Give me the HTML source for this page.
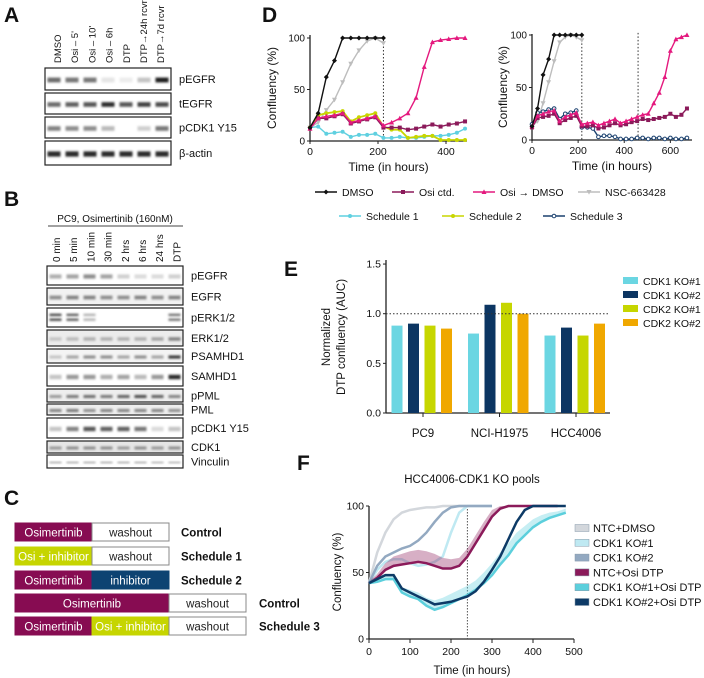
<!DOCTYPE html>
<html><head><meta charset="utf-8">
<style>
html,body{margin:0;padding:0;background:#fff;}
svg{display:block;font-family:"Liberation Sans",Arial,sans-serif;}
</style></head>
<body>
<svg id="fig" width="704" height="678" viewBox="0 0 704 678" xmlns="http://www.w3.org/2000/svg">
<defs><filter id="blur" x="-20%" y="-80%" width="140%" height="260%"><feGaussianBlur stdDeviation="1.1"/></filter></defs>
</svg>
<script>
// ---------- DATA ----------
const aLanes = ["DMSO","Osi – 5'","Osi – 10'","Osi – 6h","DTP","DTP→24h rcvr","DTP→7d rcvr"];
const aRows = ["pEGFR","tEGFR","pCDK1 Y15","β-actin"];
const aPEGFR = [0.6,0.55,0.55,0.05,0.02,0.2,0.95];
const aTEGFR = [0.6,0.65,0.7,0.9,0.7,0.8,0.75];
const aPCDK1 = [0.5,0.45,0.45,0.25,0.0,0.15,0.55];
const aActin = [0.9,0.9,0.9,0.9,0.9,0.9,0.9];
const bLanes = ["0 min","5 min","10 min","30 min","2 hrs","6 hrs","24 hrs","DTP"];
const bRows = ["pEGFR","EGFR","pERK1/2","ERK1/2","PSAMHD1","SAMHD1","pPML","PML","pCDK1 Y15","CDK1","Vinculin"];
const bPEGFR=[0.3,0.35,0.45,0.35,0.15,0.1,0.1,0.15];
const bEGFR=[0.45,0.5,0.5,0.45,0.45,0.5,0.45,0.5];
const bPERK=[0.8,0.7,0.3,0,0,0,0,0.6];
const bERK=[0.2,0.25,0.3,0.3,0.3,0.3,0.35,0.5];
const bPSAM=[0.2,0.35,0.45,0.45,0.35,0.45,0.35,0.85];
const bSAM=[0.2,0.4,0.4,0.3,0.35,0.25,0.4,0.9];
const bPPML=[0.4,0.55,0.6,0.55,0.65,0.75,0.65,0.5];
const bPML=[0.5,0.55,0.45,0.5,0.5,0.5,0.5,0.45];
const bPCDK1=[0.2,0.5,0.7,0.65,0.65,0.55,0.1,0.2];
const bCDK1=[0.4,0.45,0.45,0.45,0.4,0.45,0.4,0.45];
const bVinc=[0.45,0.45,0.45,0.45,0.45,0.45,0.4,0.4];

const dlDMSO=[13,27,62,78,100,100,100,100,100,100];
const dlNSC=[13,18,30,40,57,75,88,97,100,95];
const dlOsiDMSO=[12,22,24,25,27,18,20,22,24,15,18,22,27,42,72,96,98,99,100,100];
const dlOsiCtd=[12,22,22,24,26,17,19,21,23,13,13,13,11,12,14,16,14,16,17,19];
const dlS1=[13,14,7,8,9,4,6,6,7,3,3,4,3,3,4,5,5,6,8,12];
const dlS2=[13,25,27,28,29,19,23,25,27,14,11,11,3,4,5,5,1,1,1,1];
const drDMSO=[13,30,62,77,100,100,100,100,100,100];
const drNSC=[13,18,35,55,75,93,98,100,98,95];
const drOsiDMSO=[13,23,25,27,28,18,22,24,26,15,16,17,14,16,18,20,16,18,20,22,24,25,35,45,60,85,96,98,100];
const drOsiCtd=[12,21,22,23,25,16,19,21,23,13,13,14,11,12,14,16,14,15,17,18,20,19,20,21,22,25,22,24,30];
const drS3=[15,26,27,29,30,20,25,26,28,12,12,11,3,4,4,3,1,1,1,2,2,1,2,2,1,2,1,1,2];
const dTicksLeft=[0,200,400];
const dTicksRight=[0,200,400,600];
const dYTicks=[0,50,100];

const eGroups=["PC9","NCI-H1975","HCC4006"];
const eSeries=["CDK1 KO#1","CDK1 KO#2","CDK2 KO#1","CDK2 KO#2"];
const eKO1_1=[0.88,0.80,0.78];
const eKO1_2=[0.90,1.09,0.86];
const eKO2_1=[0.88,1.11,0.78];
const eKO2_2=[0.85,1.00,0.90];
const eYTicks=[0,0.5,1.0,1.5];

const fTime=[0,20,40,60,80,100,120,140,160,180,200,220,240,260,280,300,320,340,360,380,400,420,440,460,480];
const fNTCDMSO=[42,65,80,90,95,97,98,99,99,100,100,100,100,100,100,100];
const fKO1=[42,52,58,60,60,57,55,56,58,62,80,95,100,100,100,100];
const fKO2=[42,55,62,65,68,70,74,80,88,95,99,100,100,100,100,100];
const fNTCOsi=[42,46,52,55,56,57,58,57,55,53,53,55,62,72,82,92,98,100,100,100,100,100,100,100];
const fKO1Osi=[42,43,45,45,35,32,30,25,22,24,27,30,33,37,42,48,56,63,72,78,84,88,91,93,95];
const fKO2Osi=[42,45,48,48,38,35,32,29,26,27,28,30,32,36,43,52,62,75,88,97,100,100,100,100,100];
const fKO1OsiErr=[2,3,3,3,4,5,5,6,7,7,7,7,7,7,8,9,9,9,8,7,6,5,4,3,3];
const fNTCOsiErr=[1,3,5,7,8,9,9,9,9,8,7,6,6,6,6,5,3,1,0,0,0,0,0,0,0];
const fXTicks=[0,100,200,300,400,500];
const fYTicks=[0,50,100];

// ---------- HELPERS ----------
const svg=document.getElementById('fig');
const NS="http://www.w3.org/2000/svg";
function mk(tag,attrs,parent){const e=document.createElementNS(NS,tag);for(const k in attrs)e.setAttribute(k,attrs[k]);(parent||svg).appendChild(e);return e;}
function txt(x,y,s,size,opts,parent){const e=mk('text',Object.assign({x:x,y:y,'font-size':size,fill:'#111'},opts||{}),parent);e.textContent=s;return e;}
function grp(parent){return mk('g',{},parent);}

[["A",4,22],["B",4,206],["C",4,505],["D",262,22],["E",284,276],["F",297,470]].forEach(function(p){
  const t=txt(p[1],p[2],p[0],21,{'font-weight':'bold'});
  
  
});

function blot(x0,x1,y0,y1,vals,label,bg,dbl,thin){
  const g=grp();
  
  
  mk('rect',{x:x0,y:y0,width:x1-x0,height:y1-y0,fill:bg||'#fff',stroke:'#222','stroke-width':1.2},g);
  const n=vals.length, lw=(x1-x0)/n;
  const cy=(y0+y1)/2;
  vals.forEach(function(v,i){
    if(v<=0)return;
    const c=Math.round(240-v*220);
    const h=thin?1.3:Math.max(3,(y1-y0)*0.22);
    if(dbl){
      mk('rect',{x:x0+i*lw+2.5,y:cy-h*0.9,width:lw-5,height:h*0.55,fill:'rgb('+c+','+c+','+c+')',filter:'url(#blur)'},g);
      mk('rect',{x:x0+i*lw+2.5,y:cy+h*0.25,width:lw-5,height:h*0.55,fill:'rgb('+c+','+c+','+c+')',filter:'url(#blur)'},g);
    } else {
      mk('rect',{x:x0+i*lw+2.5,y:cy-h/2+1,width:lw-5,height:h,fill:'rgb('+c+','+c+','+c+')',filter:'url(#blur)'},g);
    }
  });
  const t=txt(x1+8,cy+4,label,11,{},g);
  
  
}
aLanes.forEach(function(s,i){
  const x=57+i*17.2;
  const t=txt(0,0,s,9.5,{transform:'translate('+(x+4)+',63) rotate(-90)'});
  
  
});
const aVals=[aPEGFR,aTEGFR,aPCDK1,aActin];
const aY=[[68,90],[93,114],[117,138],[141,165]];
aRows.forEach(function(r,i){blot(45,171,aY[i][0],aY[i][1],aVals[i],r);});

const bh=txt(115,222,"PC9, Osimertinib (160nM)",10,{'text-anchor':'middle'});


const bl=mk('line',{x1:48,y1:226,x2:183,y2:226,stroke:'#444','stroke-width':1});


bLanes.forEach(function(s,i){
  const x=56+i*17.2;
  const t=txt(0,0,s,10,{transform:'translate('+(x+4)+',262) rotate(-90)'});
  
  
});
const bVals=[bPEGFR,bEGFR,bPERK,bERK,bPSAM,bSAM,bPPML,bPML,bPCDK1,bCDK1,bVinc];
const bY=[[266,285],[288,305],[308,327],[330,346],[349,363],[366,386],[389,402],[404,415],[418,438],[441,453],[455,468]];
const bBg=['#fff','#f2f2f2','#fff','#ececec','#f4f4f4','#fff','#eee','#eee','#fff','#e6e6e6','#fff'];
bRows.forEach(function(r,i){blot(47,183,bY[i][0],bY[i][1],bVals[i],r,bBg[i],i===2,i===10);});

const cRows=[
  {y:523,segs:[["Osimertinib",15,92,'#870c52','#fff'],["washout",92,169,'#fff','#222']],lab:"Control",lx:181},
  {y:547,segs:[["Osi + inhibitor",15,92,'#c6d500','#fff'],["washout",92,169,'#fff','#222']],lab:"Schedule 1",lx:181},
  {y:571,segs:[["Osimertinib",15,92,'#870c52','#fff'],["inhibitor",92,169,'#0d4372','#fff']],lab:"Schedule 2",lx:181},
  {y:594,segs:[["Osimertinib",15,169,'#870c52','#fff'],["washout",169,246,'#fff','#222']],lab:"Control",lx:259},
  {y:617,segs:[["Osimertinib",15,92,'#870c52','#fff'],["Osi + inhibitor",92,169,'#c6d500','#fff'],["washout",169,246,'#fff','#222']],lab:"Schedule 3",lx:259}
];
cRows.forEach(function(r){
  const g=grp();
  
  
  r.segs.forEach(function(s){
    mk('rect',{x:s[1],y:r.y,width:s[2]-s[1],height:18,fill:s[3],stroke:s[3]==='#fff'?'#888':s[3],'stroke-width':1},g);
    const t=txt((s[1]+s[2])/2,r.y+13.5,s[0],11.5,{'text-anchor':'middle',fill:s[4]},g);
    
    
  });
  const t=txt(r.lx,r.y+13.5,r.lab,11.5,{'font-weight':'bold'},g);
  
  
});

const dColors={DMSO:'#111',OsiCtd:'#8b1a5a',OsiDMSO:'#e4197e',NSC:'#bdbdbd',S1:'#5fd0e0',S2:'#c8d600',S3:'#1b416f'};
function marker(g,type,x,y,col){
  let e;
  if(type==='diamond') e=mk('path',{d:'M'+x+' '+(y-2.5)+'L'+(x+2.5)+' '+y+'L'+x+' '+(y+2.5)+'L'+(x-2.5)+' '+y+'Z',fill:col},g);
  else if(type==='square') e=mk('rect',{x:x-2,y:y-2,width:4,height:4,fill:col},g);
  else if(type==='tri') e=mk('path',{d:'M'+x+' '+(y-2.6)+'L'+(x+2.5)+' '+(y+2)+'L'+(x-2.5)+' '+(y+2)+'Z',fill:col},g);
  else if(type==='itri') e=mk('path',{d:'M'+x+' '+(y+2.6)+'L'+(x+2.5)+' '+(y-2)+'L'+(x-2.5)+' '+(y-2)+'Z',fill:col},g);
  else if(type==='circ') e=mk('circle',{cx:x,cy:y,r:2,fill:col},g);
  else e=mk('circle',{cx:x,cy:y,r:1.8,fill:'#fff',stroke:col,'stroke-width':1},g);
  
  
}
function series(xs,ys,vals,col,mtype,name,step,width){
  const g=grp();
  
  
  const pts=vals.map(function(v,i){return xs(i*step)+','+ys(v);}).join(' ');
  const pl=mk('polyline',{points:pts,fill:'none',stroke:col,'stroke-width':width||1.4},g);
  
  
  if(mtype) vals.forEach(function(v,i){marker(g,mtype,xs(i*step),ys(v),col);});
}
function dAxes(xs,ys,xTicks,x0,x1,y0,y1,name,titleX){
  const g=grp();
  
  
  mk('line',{x1:x0,y1:y1,x2:x0,y2:y0+1,stroke:'#222','stroke-width':1.3},g);
  mk('line',{x1:x0,y1:y0,x2:x1,y2:y0,stroke:'#222','stroke-width':1.3},g);
  dYTicks.forEach(function(v){
    mk('line',{x1:x0-3,y1:ys(v),x2:x0,y2:ys(v),stroke:'#222'},g);
    const t=txt(x0-5,ys(v)+3.5,String(v),10,{'text-anchor':'end'},g);
    
    
  });
  xTicks.forEach(function(v){
    mk('line',{x1:xs(v),y1:y0,x2:xs(v),y2:y0+3,stroke:'#222'},g);
    const t=txt(xs(v),y0+14,String(v),10.5,{'text-anchor':'middle'},g);
    
    
  });
  const xt=txt((x0+x1)/2,y0+30,"Time (in hours)",12,{'text-anchor':'middle'},g);
  
  
  const yt=txt(0,0,"Confluency (%)",12,{'text-anchor':'middle',transform:'translate('+titleX+','+((y0+y1)/2)+') rotate(-90)'},g);
  
  
}
const xL=function(t){return 310+t*0.34;}, yL=function(v){return 141-v*1.03;};
dAxes(xL,yL,dTicksLeft,310,467,141,35,'chart-d-left-axes',276);
const vdl=mk('line',{x1:xL(216),y1:yL(102),x2:xL(216),y2:141,stroke:'#333','stroke-dasharray':'1.5,2'});


series(xL,yL,dlNSC,dColors.NSC,'itri','nsc-663428-left',24);
series(xL,yL,dlS1,dColors.S1,'circ','schedule-1',24);
series(xL,yL,dlS2,dColors.S2,'circ','schedule-2',24,1.8);
series(xL,yL,dlOsiCtd,dColors.OsiCtd,'square','osi-ctd-left',24);
series(xL,yL,dlOsiDMSO,dColors.OsiDMSO,'tri','osi-dmso-left',24);
series(xL,yL,dlDMSO,dColors.DMSO,'diamond','dmso-left',24);
const xR=function(t){return 532+t*0.2306;}, yR=function(v){return 140-v*1.05;};
dAxes(xR,yR,dTicksRight,532,692,140,34,'chart-d-right-axes',507);
[216,460].forEach(function(t){
  const l=mk('line',{x1:xR(t),y1:yR(102),x2:xR(t),y2:140,stroke:'#333','stroke-dasharray':'1.5,2'});
  
  
});
series(xR,yR,drNSC,dColors.NSC,'itri','nsc-663428-right',24);
series(xR,yR,drS3,dColors.S3,'open','schedule-3',24);
series(xR,yR,drOsiCtd,dColors.OsiCtd,'square','osi-ctd-right',24);
series(xR,yR,drOsiDMSO,dColors.OsiDMSO,'tri','osi-dmso-right',24);
series(xR,yR,drDMSO,dColors.DMSO,'diamond','dmso-right',24);
[["DMSO",315,192,'DMSO','diamond'],["Osi ctd.",392,192,'OsiCtd','square'],["Osi → DMSO",473,192,'OsiDMSO','tri'],["NSC-663428",578,192,'NSC','itri'],
 ["Schedule 1",339,216,'S1','circ'],["Schedule 2",442,216,'S2','circ'],["Schedule 3",543,216,'S3','open']].forEach(function(l){
  const g=grp();
  
  
  mk('line',{x1:l[1],y1:l[2],x2:l[1]+22,y2:l[2],stroke:dColors[l[3]],'stroke-width':1.5},g);
  marker(g,l[4],l[1]+11,l[2],dColors[l[3]]);
  const t=txt(l[1]+27,l[2]+4,l[0],10.5,{},g);
  
  
});

const eColors=['#6bd6e2','#0c3562','#c6d600','#f0a800'];
const yE=function(v){return 413-v*99.3;};
const xE=function(i){return 423+i*76.5;};
const gE=grp();


mk('line',{x1:386,y1:260,x2:386,y2:413,stroke:'#222','stroke-width':1.3},gE);
mk('line',{x1:386,y1:413,x2:610,y2:413,stroke:'#222','stroke-width':1.3},gE);
eYTicks.forEach(function(v){
  mk('line',{x1:383,y1:yE(v),x2:386,y2:yE(v),stroke:'#222'},gE);
  const t=txt(381,yE(v)+3.5,v.toFixed(1),10.5,{'text-anchor':'end'},gE);
  
  
});
const eT1=txt(0,0,"Normalized",11.5,{'text-anchor':'middle',transform:'translate(330,337) rotate(-90)'},gE);


const eT2=txt(0,0,"DTP confluency (AUC)",11.5,{'text-anchor':'middle',transform:'translate(345,337) rotate(-90)'},gE);


const eVals=[eKO1_1,eKO1_2,eKO2_1,eKO2_2];
const eOff=[-26,-9.5,7,23.5];
eGroups.forEach(function(gname,gi){
  mk('line',{x1:xE(gi),y1:413,x2:xE(gi),y2:417,stroke:'#222'},gE);
  const t=txt(xE(gi),437,gname,11.5,{'text-anchor':'middle'},gE);
  
  
  eVals.forEach(function(arr,si){
    const b=mk('rect',{x:xE(gi)+eOff[si]-5.5,y:yE(arr[gi]),width:11,height:413-yE(arr[gi]),fill:eColors[si]},gE);
    
    
  });
});
const eRef=mk('line',{x1:386,y1:yE(1),x2:610,y2:yE(1),stroke:'#333','stroke-dasharray':'1.5,2'},gE);


eSeries.forEach(function(s,i){
  const g=grp(gE);
  
  
  const y=281+i*14;
  mk('rect',{x:623,y:y-4,width:15,height:7,fill:eColors[i]},g);
  const t=txt(643,y+4,s,10.5,{},g);
  
  
});

const xF=function(t){return 369+t*0.41;}, yF=function(v){return 639-v*1.33;};
const gF=grp();


const fTitle=txt(472,483,"HCC4006-CDK1 KO pools",11.5,{'text-anchor':'middle'},gF);


mk('line',{x1:369,y1:506,x2:369,y2:639,stroke:'#222','stroke-width':1.3},gF);
mk('line',{x1:369,y1:639,x2:574,y2:639,stroke:'#222','stroke-width':1.3},gF);
fYTicks.forEach(function(v){
  mk('line',{x1:366,y1:yF(v),x2:369,y2:yF(v),stroke:'#222'},gF);
  const t=txt(364,yF(v)+3.5,String(v),10.5,{'text-anchor':'end'},gF);
  
  
});
fXTicks.forEach(function(v){
  mk('line',{x1:xF(v),y1:639,x2:xF(v),y2:643,stroke:'#222'},gF);
  const t=txt(xF(v),655,String(v),10.5,{'text-anchor':'middle'},gF);
  
  
});
const fxT=txt(472,674,"Time (in hours)",11.5,{'text-anchor':'middle'},gF);


const fyT=txt(0,0,"Confluency (%)",11.5,{'text-anchor':'middle',transform:'translate(341,572) rotate(-90)'},gF);


const fv=mk('line',{x1:xF(240),y1:yF(100),x2:xF(240),y2:639,stroke:'#555','stroke-dasharray':'1.5,1.5'},gF);


function fSeries(vals,col,name,width,err){
  const g=grp(gF);
  
  
  if(err){
    const up=vals.map(function(v,i){return xF(fTime[i])+','+yF(Math.min(100,v+err[i]));});
    const dn=vals.map(function(v,i){return xF(fTime[i])+','+yF(v);}).reverse();
    const band=mk('polygon',{points:up.concat(dn).join(' '),fill:col,'fill-opacity':0.35},g);
    
    
  }
  const pl=mk('polyline',{points:vals.map(function(v,i){return xF(fTime[i])+','+yF(v);}).join(' '),fill:'none',stroke:col,'stroke-width':width},g);
  
  
}
const fCols=['#d3d7dc','#bfe9f2','#93a9c1','#8b1a5a','#5ccfdc','#0d3a66'];
fSeries(fNTCDMSO,fCols[0],'ntc-dmso',2.5);
fSeries(fKO1,fCols[1],'cdk1-ko1',2.5);
fSeries(fKO2,fCols[2],'cdk1-ko2',2.5);
fSeries(fNTCOsi,fCols[3],'ntc-osi-dtp',2.5,fNTCOsiErr);
fSeries(fKO1Osi,fCols[4],'cdk1-ko1-osi-dtp',2.5,fKO1OsiErr);
fSeries(fKO2Osi,fCols[5],'cdk1-ko2-osi-dtp',2.5);
["NTC+DMSO","CDK1 KO#1","CDK1 KO#2","NTC+Osi DTP","CDK1 KO#1+Osi DTP","CDK1 KO#2+Osi DTP"].forEach(function(s,i){
  const g=grp(gF);
  
  
  const y=528+i*14.8;
  mk('rect',{x:575,y:y-3.5,width:14,height:7,fill:fCols[i],stroke:'#8899aa','stroke-width':0.5},g);
  const t=txt(593,y+4,s,11,{},g);
  
  
});
</script>
</body></html>
